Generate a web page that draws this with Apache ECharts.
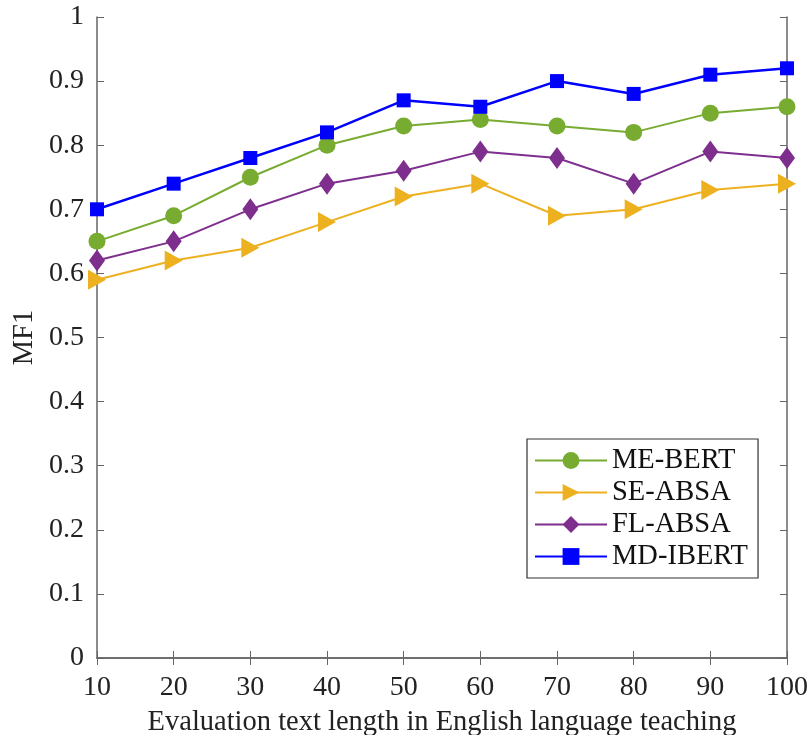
<!DOCTYPE html>
<html><head><meta charset="utf-8">
<script src="https://cdn.jsdelivr.net/npm/echarts@6/dist/echarts.min.js"></script>
<style>html,body{margin:0;padding:0;background:#fff}#c{width:809px;height:735px}</style>
</head><body><div id="c"></div>
<script>
var xValues = [10,20,30,40,50,60,70,80,90,100];
var meBert = [0.65,0.69,0.75,0.80,0.83,0.84,0.83,0.82,0.85,0.86];
var seAbsa = [0.59,0.62,0.64,0.68,0.72,0.74,0.69,0.70,0.73,0.74];
var flAbsa = [0.62,0.65,0.70,0.74,0.76,0.79,0.78,0.74,0.79,0.78];
var mdIbert = [0.70,0.74,0.78,0.82,0.87,0.86,0.90,0.88,0.91,0.92];
var seriesNames = ['ME-BERT','SE-ABSA','FL-ABSA','MD-IBERT'];

function pairs(v){ return xValues.map(function(x,i){ return [x, v[i]]; }); }
var font = 'Liberation Serif';
var axisCol = '#666';
function axisBase(extra){
  return Object.assign({
    axisLine:{show:true,lineStyle:{color:axisCol,width:1.5}},
    axisTick:{show:true,inside:true,length:7,lineStyle:{color:axisCol}},
    splitLine:{show:false}
  }, extra);
}
var chart = echarts.init(document.getElementById('c'));
chart.setOption({
  animation:false,
  backgroundColor:'#fff',
  grid:{left:97,right:22,top:17,bottom:77,containLabel:false,outerBoundsMode:'none'},
  xAxis:[
    axisBase({type:'value',min:10,max:100,interval:10,position:'bottom',
      name:'Evaluation text length in English language teaching',nameLocation:'middle',nameGap:50,
      nameTextStyle:{fontFamily:font,fontSize:28.5,color:'#222'},
      axisLabel:{fontFamily:font,fontSize:28,color:'#222',margin:16}}),
    axisBase({type:'value',min:10,max:100,interval:10,position:'top',axisLabel:{show:false}})
  ],
  yAxis:[
    axisBase({type:'value',min:0,max:1,interval:0.1,position:'left',
      name:'MF1',nameLocation:'middle',nameGap:58,nameMoveOverlap:false,
      nameTextStyle:{fontFamily:font,fontSize:28.5,color:'#222'},
      axisLabel:{fontFamily:font,fontSize:28,color:'#222',margin:13,
        formatter:function(v){return v===0?'0':(v===1?'1':String(+v.toFixed(1)));}}}),
    axisBase({type:'value',min:0,max:1,interval:0.1,position:'right',axisLabel:{show:false}})
  ],
  legend:{
    orient:'vertical',left:527,top:439,
    data:seriesNames,
    itemWidth:72,itemHeight:21,itemGap:3,
    borderColor:'#333',borderWidth:1.2,borderRadius:0,
    padding:[7,10,7,7],
    backgroundColor:'#fff',
    textStyle:{fontFamily:font,fontSize:28.5,color:'#111'}
  },
  series:[
    {name:'ME-BERT',type:'line',data:pairs(meBert),symbol:'circle',symbolSize:17,
     lineStyle:{color:'#77AC30',width:2},itemStyle:{color:'#77AC30'}},
    {name:'SE-ABSA',type:'line',data:pairs(seAbsa),symbol:'path://M0,0 L10,5 L0,10 Z',symbolSize:[18,20],symbolKeepAspect:false,
     lineStyle:{color:'#EDB120',width:2},itemStyle:{color:'#EDB120'}},
    {name:'FL-ABSA',type:'line',data:pairs(flAbsa),symbol:'diamond',symbolSize:[16,22],
     lineStyle:{color:'#7E2F8E',width:2},itemStyle:{color:'#7E2F8E'}},
    {name:'MD-IBERT',type:'line',data:pairs(mdIbert),symbol:'rect',symbolSize:14,
     lineStyle:{color:'#0000FF',width:2.5},itemStyle:{color:'#0000FF'}}
  ]
});
</script></body></html>
